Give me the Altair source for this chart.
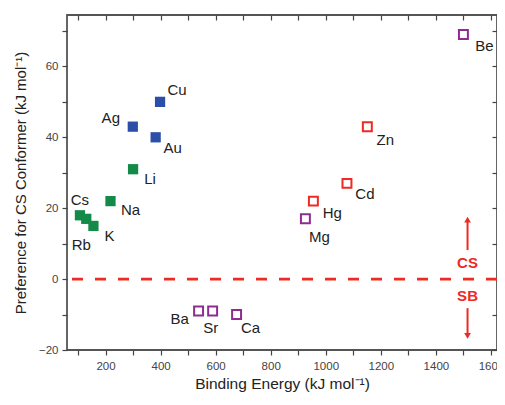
import altair as alt
import pandas as pd

# ---- data ----
filled_labels = ["Cu", "Ag", "Au", "Li", "Na", "Cs", "Rb", "K"]
filled_x = [398, 299, 382, 300, 218, 107, 130, 156]
filled_y = [50, 43, 40, 31, 22, 18, 17, 15]
filled_group = ["coinage", "coinage", "coinage", "alkali", "alkali", "alkali", "alkali", "alkali"]

open_labels = ["Be", "Zn", "Cd", "Hg", "Mg", "Ba", "Sr", "Ca"]
open_x = [1500, 1151, 1077, 955, 926, 538, 589, 676]
open_y = [69, 43, 27, 22, 17, -9, -9, -10]
open_group = ["alkaline", "group12", "group12", "group12", "alkaline", "alkaline", "alkaline", "alkaline"]

x_tick_values = [100, 200, 300, 400, 500, 600, 700, 800, 900, 1000, 1100, 1200, 1300, 1400, 1500, 1600]
y_tick_values = [-20, -10, 0, 10, 20, 30, 40, 50, 60, 70]

arrow_x = 1515
arrow_up = (8.2, 16.8)
arrow_down = (-8.2, -16.0)
cs_y = 4.6
sb_y = -4.9

# label placement (styling): dx, dy in pixels
label_offsets = {
    "Cu": (17, -12), "Ag": (-22, -9), "Au": (17, 11), "Li": (17, 10),
    "Na": (20, 9), "Cs": (0, -15), "Rb": (-5, 26), "K": (16, 10),
    "Be": (21, 12), "Zn": (18, 13), "Cd": (18, 11), "Hg": (19, 12),
    "Mg": (14, 18), "Ba": (-19, 8), "Sr": (-2, 17), "Ca": (14, 13),
}
group_colors = {"coinage": "#2b4fa8", "alkali": "#138a47", "alkaline": "#8e2c91", "group12": "#ee2a24"}

fdf = pd.DataFrame({"label": filled_labels, "x": filled_x, "y": filled_y, "g": filled_group})
odf = pd.DataFrame({"label": open_labels, "x": open_x, "y": open_y, "g": open_group})
lab = pd.concat([fdf, odf], ignore_index=True)

font = "Liberation Sans"
xs = alt.Scale(domain=[60, 1622], nice=False, zero=False)
ys = alt.Scale(domain=[-20, 74.5], nice=False, zero=False)

lab_expr = "datum.value % 200 == 0 ? datum.label : ''"
ylab_expr = "datum.value % 20 == 0 ? datum.label : ''"

xaxis = alt.Axis(values=x_tick_values, labelExpr=lab_expr, format="d", title="Binding Energy  (kJ mol\u207b\u00b9)",
                 grid=False, domain=False, tickColor="#444", tickSize=5, tickWidth=1.2,
                 labelFont=font, labelFontSize=11.5, labelColor="#444", labelPadding=5,
                 titleFont=font, titleFontSize=15.5, titleFontWeight="normal", titleColor="#222", titlePadding=5)
yaxis = alt.Axis(values=y_tick_values, labelExpr=ylab_expr, format="d",
                 title="Preference for CS Conformer  (kJ mol\u207b\u00b9)",
                 grid=False, domain=False, tickColor="#444", tickSize=5, tickWidth=1.2,
                 labelFont=font, labelFontSize=11.5, labelColor="#444", labelPadding=4,
                 titleFont=font, titleFontSize=15, titleFontWeight="normal", titleColor="#222", titlePadding=10)
xaxis_top = alt.Axis(values=x_tick_values, orient="top", labels=False, title=None, grid=False, domain=False,
                     tickColor="#444", tickSize=5, tickWidth=1.2, offset=-5)
yaxis_right = alt.Axis(values=y_tick_values, orient="right", labels=False, title=None, grid=False, domain=False,
                       tickColor="#444", tickSize=5, tickWidth=1.2, offset=-5)


def X(axis=None):
    return alt.X("x:Q", scale=xs, axis=axis)


def Y(axis=None):
    return alt.Y("y:Q", scale=ys, axis=axis)


layers = []

# axis carrier layers
layers.append(alt.Chart(pd.DataFrame({"x": [x_tick_values[1]], "y": [0]})).mark_point(opacity=0).encode(
    x=X(xaxis), y=Y(yaxis)))
layers.append(alt.Chart(pd.DataFrame({"x": [x_tick_values[1]], "y": [0]})).mark_point(opacity=0).encode(
    x=X(xaxis_top), y=Y(yaxis_right)))

# zero line
layers.append(alt.Chart(pd.DataFrame({"y": [0]})).mark_rule(color="#ee2a24", strokeDash=[11, 12], strokeWidth=2.8).encode(
    y=Y()))

for g in ["coinage", "alkali"]:
    layers.append(alt.Chart(fdf[fdf["g"] == g]).mark_square(size=105, opacity=1, color=group_colors[g]).encode(
        x=X(), y=Y()))
for g in ["alkaline", "group12"]:
    layers.append(alt.Chart(odf[odf["g"] == g]).mark_square(size=80, filled=False, strokeWidth=2, opacity=1,
                                                             color=group_colors[g]).encode(x=X(), y=Y()))

for l in lab["label"]:
    dx, dy = label_offsets[l]
    layers.append(alt.Chart(lab[lab["label"] == l]).mark_text(font=font, fontSize=15, color="#222", dx=dx, dy=dy).encode(
        x=X(), y=Y(), text="label:N"))

adf = pd.DataFrame({"x": [arrow_x, arrow_x], "y": [arrow_up[0], arrow_down[0]], "y2": [arrow_up[1], arrow_down[1]]})
layers.append(alt.Chart(adf).mark_rule(color="#ee2a24", strokeWidth=2).encode(x=X(), y=Y(), y2="y2:Q"))
layers.append(alt.Chart(pd.DataFrame({"x": [arrow_x], "y": [arrow_up[1]]})).mark_point(
    shape="triangle-up", filled=True, size=45, color="#ee2a24", opacity=1).encode(x=X(), y=Y()))
layers.append(alt.Chart(pd.DataFrame({"x": [arrow_x], "y": [arrow_down[1]]})).mark_point(
    shape="triangle-down", filled=True, size=45, color="#ee2a24", opacity=1).encode(x=X(), y=Y()))
layers.append(alt.Chart(pd.DataFrame({"x": [arrow_x, arrow_x], "y": [cs_y, sb_y], "t": ["CS", "SB"]})).mark_text(
    font=font, fontSize=15, fontWeight="bold", color="#ee2a24").encode(x=X(), y=Y(), text="t:N"))

chart = alt.layer(*layers).resolve_axis(
    x="independent", y="independent"
).properties(
    width=430, height=335,
    background="white",
    autosize=alt.AutoSizeParams(type="none"),
    padding={"left": 59, "top": 7, "right": 0, "bottom": 47},
).configure_view(stroke="#555", strokeWidth=1.8)

chart.save("out.html", embed_options={"renderer": "svg", "actions": False})
